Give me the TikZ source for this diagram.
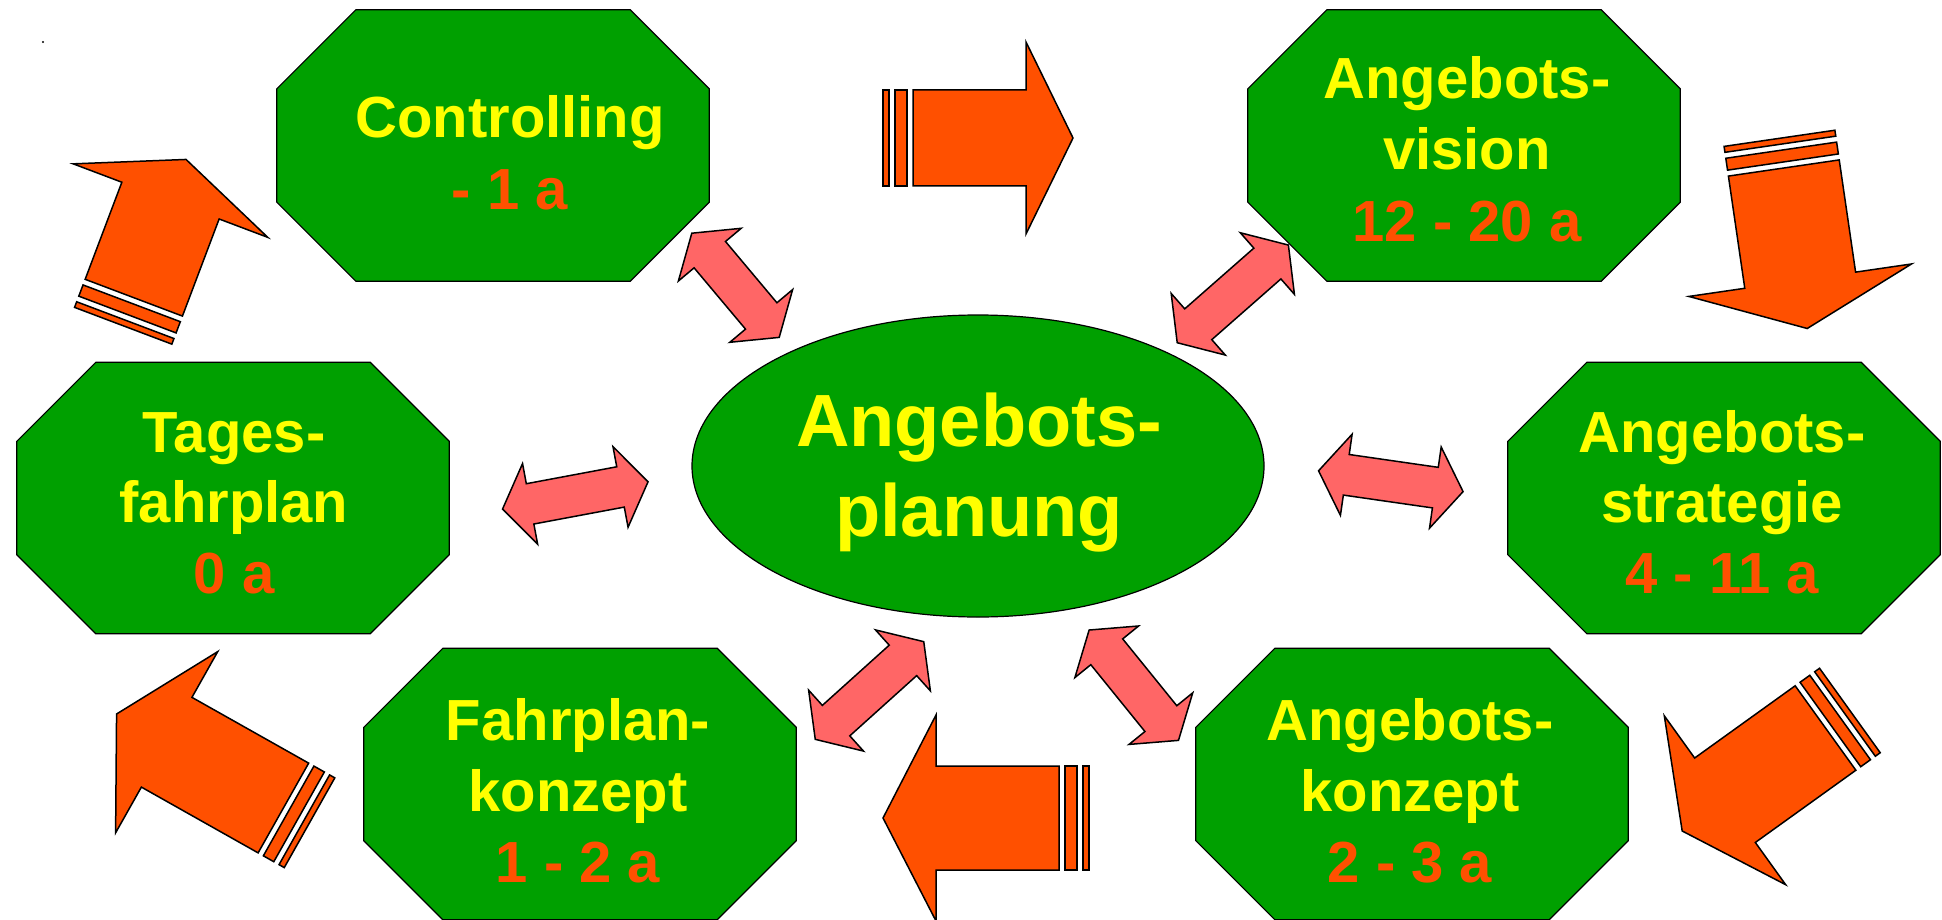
\documentclass[tikz,border=0pt]{standalone}
\usepackage{fontspec}
\setmainfont{Liberation Sans}
\usetikzlibrary{shapes.geometric}
\definecolor{octgreen}{RGB}{0,160,0}
\definecolor{bigorange}{RGB}{255,80,0}
\definecolor{pinkarrow}{RGB}{255,102,102}
\definecolor{txtyellow}{RGB}{255,255,0}
\definecolor{txtred}{RGB}{255,80,0}
\tikzset{
  octbox/.style={draw=none, minimum width=432pt, minimum height=271pt, inner sep=0pt},
  octa/.style={draw=black, line width=1.2pt, fill=octgreen},
  bigarr/.style={draw=black, line width=1.5pt, fill=bigorange},
  pinkarr/.style={draw=black, line width=1.5pt, fill=pinkarrow},
  lbl/.style={anchor=base, inner sep=0pt, font=\bfseries\fontsize{58}{70}\selectfont},
  ylbl/.style={lbl, text=txtyellow},
  rlbl/.style={lbl, text=txtred},
  biglbl/.style={anchor=base, inner sep=0pt, text=txtyellow, font=\bfseries\fontsize{74}{90}\selectfont}
}
\newcommand{\OctNode}[3]{%
  \node[octbox] (#1) at (#2,#3) {};
  \draw[octa] ([xshift=79pt]#1.north west) -- ([xshift=-79pt]#1.north east)
    -- ([yshift=-79pt]#1.north east) -- ([yshift=79pt]#1.south east)
    -- ([xshift=-79pt]#1.south east) -- ([xshift=79pt]#1.south west)
    -- ([yshift=79pt]#1.south west) -- ([yshift=-79pt]#1.north west) -- cycle;}
\newcommand{\BigArrow}[7]{%
  \begin{scope}[shift={(#1,#2)},rotate=#3]
    \draw[bigarr] (-30,-#6) -- (-24,-#6) -- (-24,#6) -- (-30,#6) -- cycle;
    \draw[bigarr] (-18,-#6) -- (-6,-#6) -- (-6,#6) -- (-18,#6) -- cycle;
    \draw[bigarr] (0,-#6) -- (#4,-#6) -- (#4,-#7) -- ({#4+#5},0) -- (#4,#7) -- (#4,#6) -- (0,#6) -- cycle;
  \end{scope}}
\newcommand{\DblArrow}[4]{%
  \begin{scope}[shift={(#1,#2)},rotate=#3]
    \draw[pinkarr] (#4,0) -- ({#4-28},41) -- ({#4-28},20.5) -- ({-#4+28},20.5)
      -- ({-#4+28},41) -- (-#4,0) -- ({-#4+28},-41) -- ({-#4+28},-20.5)
      -- ({#4-28},-20.5) -- ({#4-28},-41) -- cycle;
  \end{scope}}
\begin{document}
\begin{tikzpicture}[x=1pt,y=-1pt]
\useasboundingbox (0,0) rectangle (1942,920);
\fill[white] (0,0) rectangle (1942,920);
\fill[black] (43,42) circle (1.2);
% octagons
\OctNode{ctrl}{493}{145.5}
\OctNode{vision}{1464}{145.5}
\OctNode{strat}{1724}{498}
\OctNode{konz}{1412}{784}
\OctNode{fkonz}{580}{784}
\OctNode{tages}{233}{498}
% central ellipse
\node[ellipse, draw=black, line width=1.2pt, fill=octgreen, minimum width=572pt, minimum height=302pt, inner sep=0pt] (plan) at (978,466) {};
% labels
\node[ylbl] (ctrl-a) at (510,138) {Controlling};
\node[rlbl] (ctrl-b) at (510,209) {- 1 a};
\node[ylbl] (vision-a) at (1467,99) {Angebots-};
\node[ylbl] (vision-b) at (1467,170) {vision};
\node[rlbl] (vision-c) at (1467,241) {12 - 20 a};
\node[ylbl] (strat-a) at (1722,452) {Angebots-};
\node[ylbl] (strat-b) at (1722,522) {strategie};
\node[rlbl] (strat-c) at (1722,593) {4 - 11 a};
\node[ylbl] (konz-a) at (1410,740) {Angebots-};
\node[ylbl] (konz-b) at (1410,811) {konzept};
\node[rlbl] (konz-c) at (1410,882) {2 - 3 a};
\node[ylbl] (fkonz-a) at (578,740) {Fahrplan-};
\node[ylbl] (fkonz-b) at (578,811) {konzept};
\node[rlbl] (fkonz-c) at (578,882) {1 - 2 a};
\node[ylbl] (tages-a) at (234,452) {Tages-};
\node[ylbl] (tages-b) at (234,522) {fahrplan};
\node[rlbl] (tages-c) at (234,593) {0 a};
\node[biglbl] (plan-a) at (979,446) {Angebots-};
\node[biglbl] (plan-b) at (979,536) {planung};
% big orange cycle arrows
\BigArrow{913}{138}{0}{113}{47}{48}{96}
\BigArrow{1783.8}{168}{-81.7}{113.4}{48.8}{56}{112.5}
\BigArrow{1825.5}{728}{-144.3}{123.8}{52.7}{52}{104}
\BigArrow{1059}{818}{180}{123}{53}{52}{103}
\BigArrow{283.4}{808}{150.6}{134}{57.5}{51.5}{104}
\BigArrow{133.8}{297.7}{69.3}{103.8}{44}{52}{104}
% pink double arrows
\DblArrow{735.5}{285.3}{-50}{68}
\DblArrow{1232.8}{293.9}{41.3}{74}
\DblArrow{1390.8}{481.2}{-8.2}{73}
\DblArrow{1133.8}{685.2}{-51}{71}
\DblArrow{869.5}{690.5}{42}{73}
\DblArrow{575.3}{495.4}{10.6}{74}
\end{tikzpicture}
\end{document}
